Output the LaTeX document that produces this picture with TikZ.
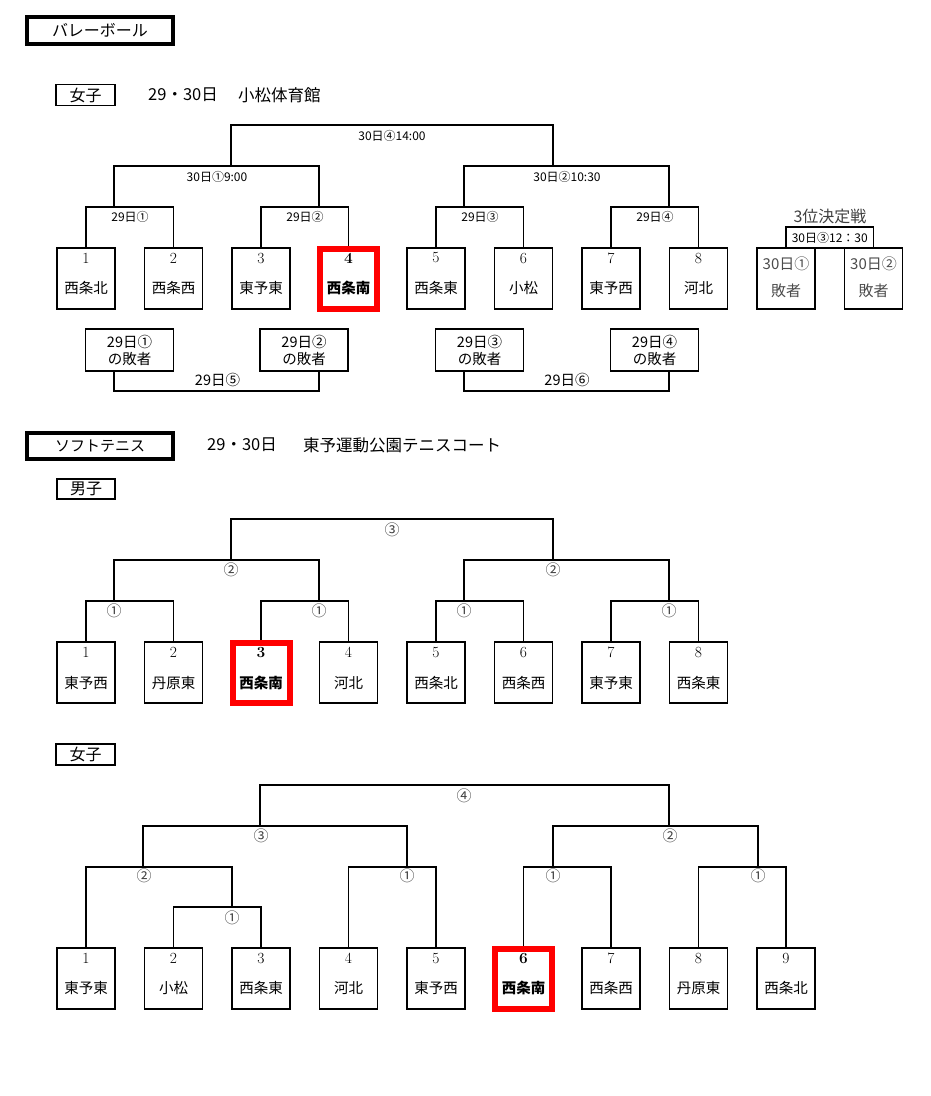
\documentclass[tikz,border=0pt]{standalone}
\usepackage{fontspec}
\newfontfamily\jp{Noto Sans CJK JP}
\tikzset{
  team/.style={draw,line width=1.2pt,minimum width=58pt,minimum height=61pt,inner sep=0pt},
  hit/.style={draw=red,line width=6pt,minimum width=57pt,minimum height=60pt,inner sep=0pt},
  lose/.style={draw,line width=1.2pt,minimum width=88pt,minimum height=42pt,inner sep=0pt,align=center,font=\jp\fontsize{14.5}{17}\selectfont},
  num/.style={inner sep=0pt,font=\fontsize{15.5}{15.5}\selectfont},
  hitnum/.style={inner sep=0pt,font=\fontsize{15.5}{15.5}\selectfont\bfseries},
  nm/.style={inner sep=0pt,font=\jp\fontsize{14.5}{14.5}\selectfont},
  hitnm/.style={inner sep=0pt,font=\jp\fontsize{14.5}{14.5}\selectfont\bfseries},
  gnm/.style={inner sep=0pt,text=black!70,font=\jp\fontsize{15}{15}\selectfont},
  rd/.style={inner sep=0pt,font=\jp\fontsize{12}{12}\selectfont},
  lrd/.style={inner sep=0pt,font=\jp\fontsize{14.5}{14.5}\selectfont},
  cn/.style={inner sep=0pt,text=black!75,font=\jp\fontsize{15}{15}\selectfont},
  head/.style={draw,line width=4pt,minimum width=146pt,minimum height=27pt,inner sep=0pt,font=\jp\fontsize{16}{16}\selectfont},
  sex/.style={draw,line width=1.2pt,minimum width=59pt,minimum height=21pt,inner sep=0pt,font=\jp\fontsize{16}{16}\selectfont},
  info/.style={anchor=west,inner sep=0pt,font=\jp\fontsize{16.5}{16.5}\selectfont},
  br/.style={line width=1.3pt},
}
\begin{document}
\begin{tikzpicture}[x=1pt,y=-1pt]
\fill[white] (0,0) rectangle (930,1096);
\useasboundingbox (0,0) rectangle (930,1096);
% headings
\node[head] (hv) at (100,30.5) {バレーボール};
\node[sex] (hvg) at (85.5,95) {女子};
\node[info] (hvd) at (148,95) {29・30日};
\node[info] (hvp) at (238,95) {小松体育館};
\node[head,minimum height=26pt,font=\jp\fontsize{15}{15}\selectfont] (hs) at (100,446) {ソフトテニス};
\node[info] (hsd) at (207,445) {29・30日};
\node[info] (hsp) at (303,445) {東予運動公園テニスコート};
\node[sex,minimum width=58pt,minimum height=20pt] (hsb) at (86,489) {男子};
\node[sex] (hsg) at (85.5,754.5) {女子};
% volleyball
\foreach \i/\t in {1/西条北,2/西条西,3/東予東,5/西条東,6/小松,7/東予西,8/河北}{
  \node[team] (vb\i) at ({86+87.5*(\i-1)},278.5) {};
  \node[num] (vbn\i) at ({86+87.5*(\i-1)},258) {\i};
  \node[nm] (vbt\i) at ({86+87.5*(\i-1)},288) {\t};
}
\node[hit] (vb4) at (348.5,278.5) {};
\node[hitnum] (vbn4) at (348.5,258) {4};
\node[hitnm] (vbt4) at (348.5,288) {西条南};
\coordinate (vj1) at (114,207);
\coordinate (vj2) at (319,207);
\coordinate (vj3) at (464,207);
\coordinate (vj4) at (669,207);
\coordinate (vk1) at (231,166);
\coordinate (vk2) at (553,166);
\coordinate (vtop) at (392,125);
\draw[br] (vb1.north) |- (vj1) -| (vb2.north);
\draw[br] (vb3.north) |- (vj2) -| (vb4.north);
\draw[br] (vb5.north) |- (vj3) -| (vb6.north);
\draw[br] (vb7.north) |- (vj4) -| (vb8.north);
\draw[br] (vj1) |- (vk1) -| (vj2);
\draw[br] (vj3) |- (vk2) -| (vj4);
\draw[br] (vk1) |- (vtop) -| (vk2);
\node[rd] (vr1) at (130,217) {29日①};
\node[rd] (vr2) at (305,217) {29日②};
\node[rd] (vr3) at (480,217) {29日③};
\node[rd] (vr4) at (655,217) {29日④};
\node[rd] (vs1) at (217,177) {30日①9:00};
\node[rd] (vs2) at (567,177) {30日②10:30};
\node[rd] (vf) at (392,136) {30日④14:00};
% third place
\node[team] (vc1) at (786,278.5) {};
\node[team] (vc2) at (873.5,278.5) {};
\node[gnm] (vcn1) at (786,264) {30日①};
\node[gnm] (vct1) at (786,291) {敗者};
\node[gnm] (vcn2) at (873.5,264) {30日②};
\node[gnm] (vct2) at (873.5,291) {敗者};
\node[draw,line width=1.2pt,minimum width=87.5pt,minimum height=21pt,rd] (v3box) at (829.75,237.5) {30日③12：30};
\node[inner sep=0pt,text=black!75,font=\jp\fontsize{16}{16}\selectfont] (v3t) at (830,216) {3位決定戦};
% losers
\node[lose] (lA) at (129.5,350) {29日①\\の敗者};
\node[lose] (lB) at (304,350) {29日②\\の敗者};
\node[lose] (lC) at (479.5,350) {29日③\\の敗者};
\node[lose] (lD) at (654.5,350) {29日④\\の敗者};
\coordinate (l5) at (217,391);
\coordinate (l6) at (567,391);
\draw[br] (vj1 |- lA.south) |- (l5) -| (vj2 |- lB.south);
\draw[br] (vj3 |- lC.south) |- (l6) -| (vj4 |- lD.south);
\node[lrd] (lr5) at (217.5,380) {29日⑤};
\node[lrd] (lr6) at (567,380) {29日⑥};
% soft tennis, boys
\foreach \i/\t in {1/東予西,2/丹原東,4/河北,5/西条北,6/西条西,7/東予東,8/西条東}{
  \node[team] (sb\i) at ({86+87.5*(\i-1)},672.5) {};
  \node[num] (sbn\i) at ({86+87.5*(\i-1)},652) {\i};
  \node[nm] (sbt\i) at ({86+87.5*(\i-1)},683) {\t};
}
\node[hit] (sb3) at (261,672.5) {};
\node[hitnum] (sbn3) at (261,652) {3};
\node[hitnm] (sbt3) at (261,683) {西条南};
\coordinate (sbj1) at (114,601);
\coordinate (sbj2) at (319,601);
\coordinate (sbj3) at (464,601);
\coordinate (sbj4) at (669,601);
\coordinate (sbk1) at (231,560);
\coordinate (sbk2) at (553,560);
\coordinate (sbtop) at (392,519);
\draw[br] (sb1.north) |- (sbj1) -| (sb2.north);
\draw[br] (sb3.north) |- (sbj2) -| (sb4.north);
\draw[br] (sb5.north) |- (sbj3) -| (sb6.north);
\draw[br] (sb7.north) |- (sbj4) -| (sb8.north);
\draw[br] (sbj1) |- (sbk1) -| (sbj2);
\draw[br] (sbj3) |- (sbk2) -| (sbj4);
\draw[br] (sbk1) |- (sbtop) -| (sbk2);
\node[cn] (sbr1) at (114,611) {①};
\node[cn] (sbr2) at (319,611) {①};
\node[cn] (sbr3) at (464,611) {①};
\node[cn] (sbr4) at (669,611) {①};
\node[cn] (sbs1) at (231,570) {②};
\node[cn] (sbs2) at (553,570) {②};
\node[cn] (sbf) at (392,530) {③};
% soft tennis, girls
\foreach \i/\t in {1/東予東,2/小松,3/西条東,4/河北,5/東予西,7/西条西,8/丹原東,9/西条北}{
  \node[team] (sg\i) at ({86+87.5*(\i-1)},978.5) {};
  \node[num] (sgn\i) at ({86+87.5*(\i-1)},958) {\i};
  \node[nm] (sgt\i) at ({86+87.5*(\i-1)},988) {\t};
}
\node[hit] (sg6) at (523.5,978.5) {};
\node[hitnum] (sgn6) at (523.5,958) {6};
\node[hitnm] (sgt6) at (523.5,988) {西条南};
\coordinate (sgj1) at (232,907);
\coordinate (sgk1) at (143,867);
\coordinate (sgk2) at (407,867);
\coordinate (sgk3) at (553,867);
\coordinate (sgk4) at (758,867);
\coordinate (sgm1) at (260,826);
\coordinate (sgm2) at (669,826);
\coordinate (sgtop) at (464,785);
\draw[br] (sg2.north) |- (sgj1) -| (sg3.north);
\draw[br] (sg1.north) |- (sgk1) -| (sgj1);
\draw[br] (sg4.north) |- (sgk2) -| (sg5.north);
\draw[br] (sg6.north) |- (sgk3) -| (sg7.north);
\draw[br] (sg8.north) |- (sgk4) -| (sg9.north);
\draw[br] (sgk1) |- (sgm1) -| (sgk2);
\draw[br] (sgk3) |- (sgm2) -| (sgk4);
\draw[br] (sgm1) |- (sgtop) -| (sgm2);
\node[cn] (sgr1) at (232,918) {①};
\node[cn] (sgr2) at (144,876) {②};
\node[cn] (sgr3) at (407,876) {①};
\node[cn] (sgr4) at (553,876) {①};
\node[cn] (sgr5) at (758,876) {①};
\node[cn] (sgs1) at (261,836) {③};
\node[cn] (sgs2) at (670,836) {②};
\node[cn] (sgf) at (464,796) {④};
\end{tikzpicture}
\end{document}
